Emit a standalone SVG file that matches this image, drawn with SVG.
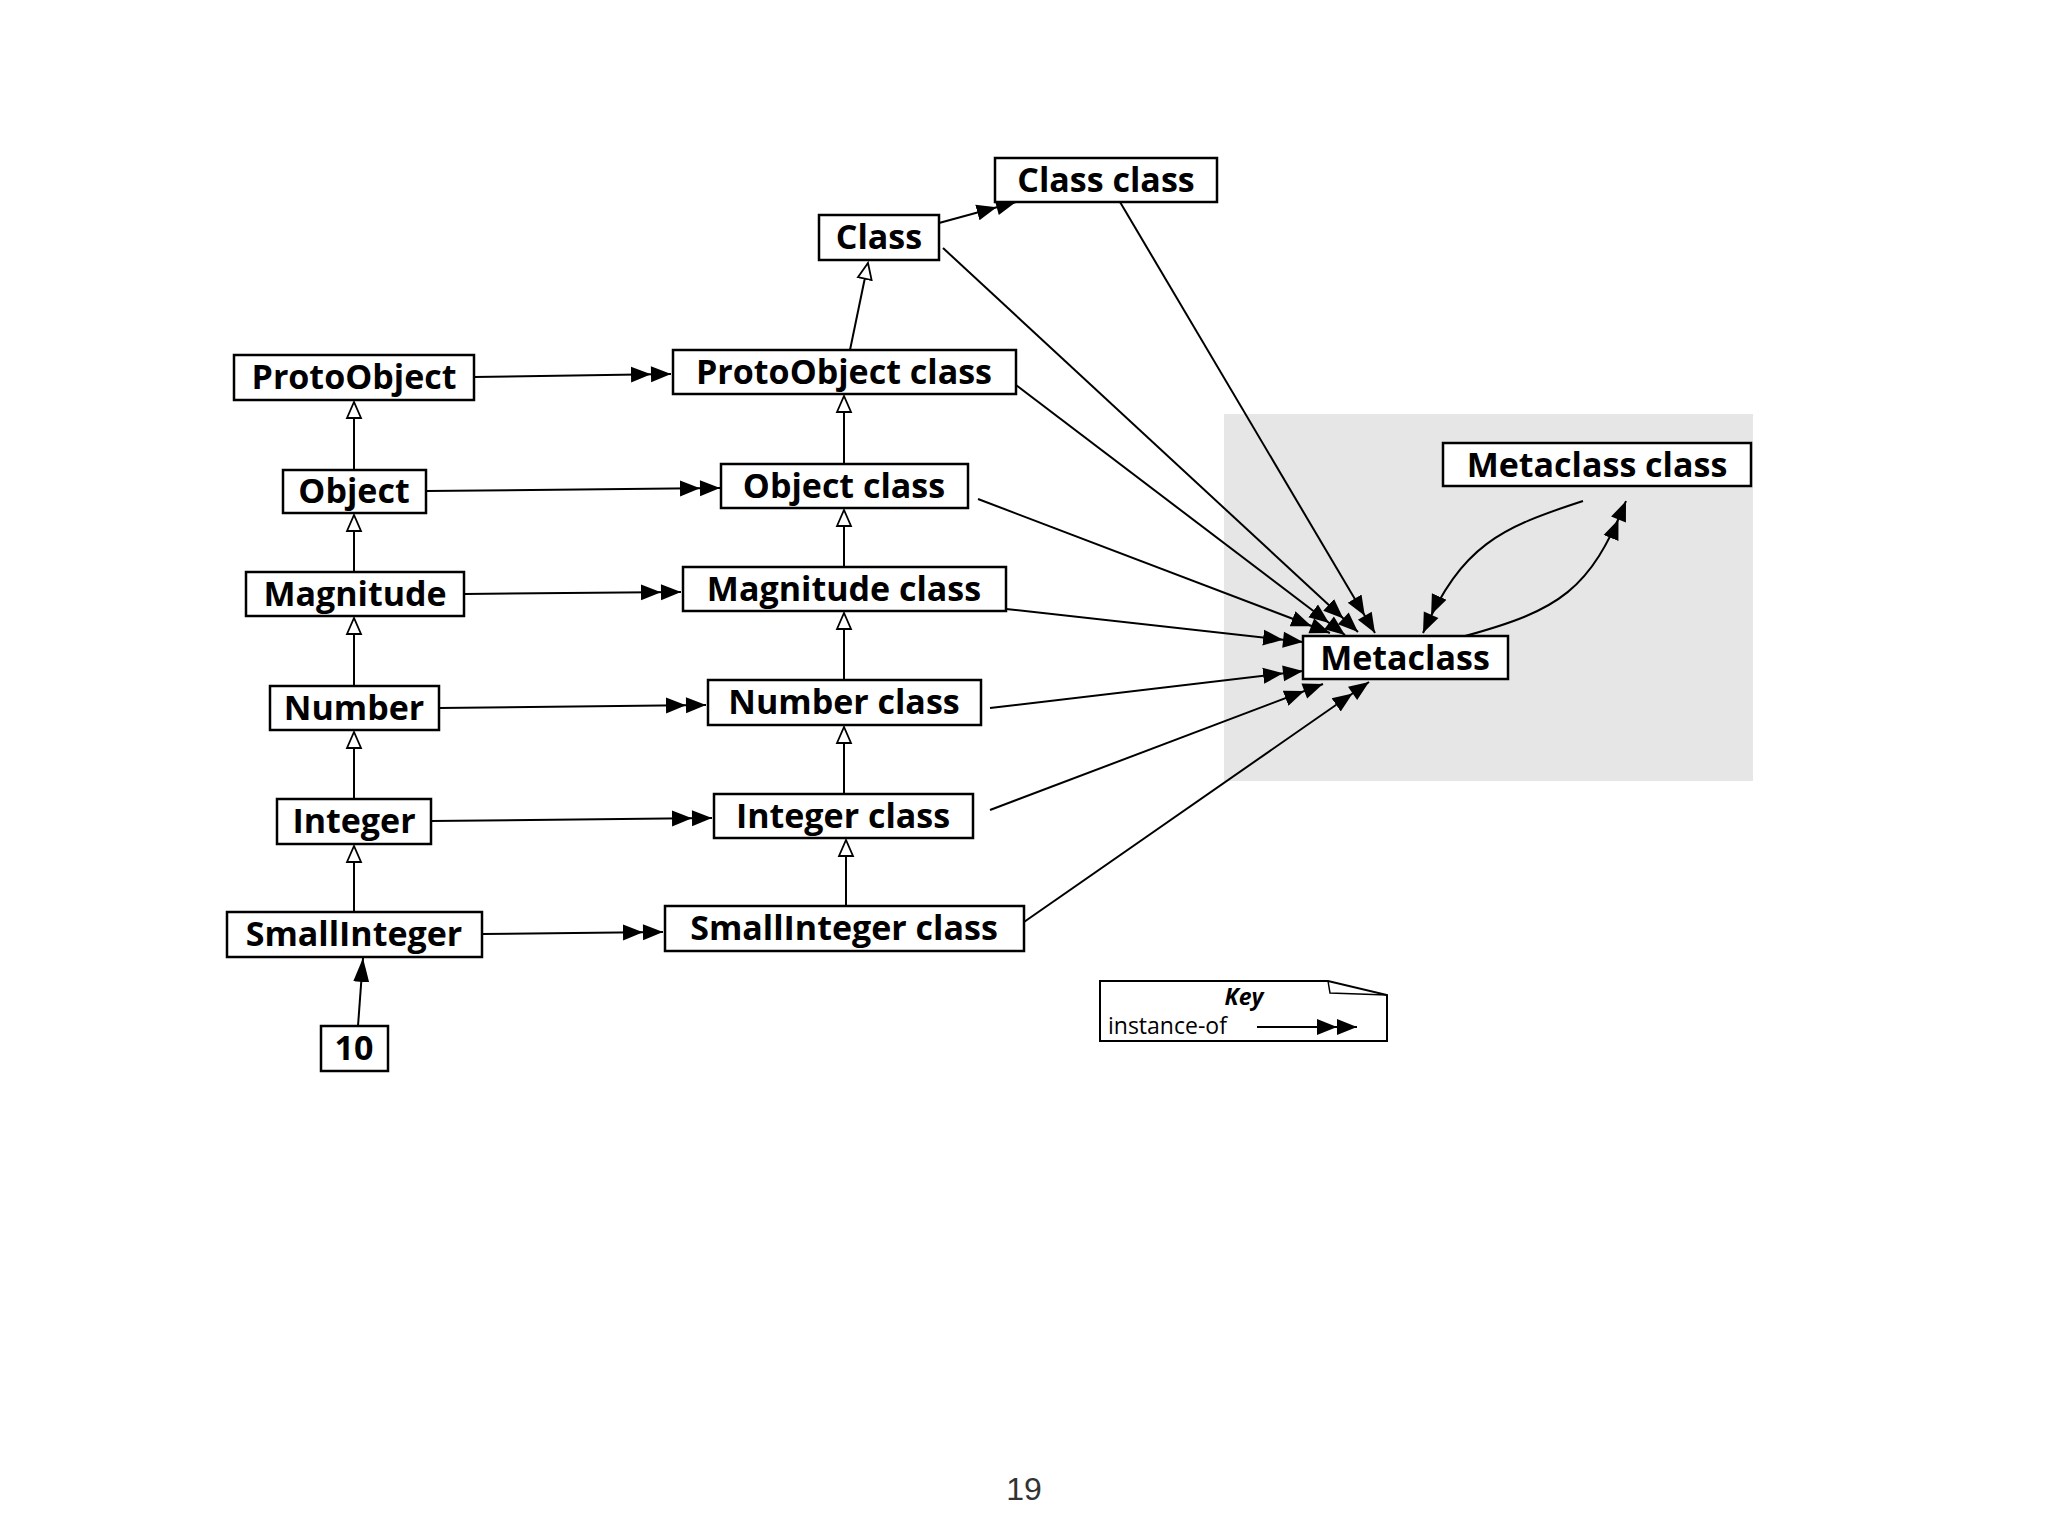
<svg xmlns="http://www.w3.org/2000/svg" width="2048" height="1536" viewBox="0 0 2048 1536">
<style>
.n rect{fill:#fff;stroke:#000;stroke-width:2.5}
.n text{font-family:"Open Sans","DejaVu Sans",sans-serif;font-weight:bold;font-size:34px;text-anchor:middle}
.e{fill:none;stroke:#000;stroke-width:2}
.io{marker-end:url(#dbl)}
.inh{marker-end:url(#tri)}
</style>
<defs>
<marker id="dbl" markerUnits="userSpaceOnUse" markerWidth="44" markerHeight="20" refX="40" refY="9" orient="auto" viewBox="0 0 44 20"><path d="M0,1 L20,9 L0,17 Z M20,1 L40,9 L20,17 Z" fill="#000"/></marker>
<marker id="tri" markerUnits="userSpaceOnUse" markerWidth="20" markerHeight="20" refX="17" refY="9" orient="auto" viewBox="0 0 20 20"><path d="M1,2 L17,9 L1,16 Z" fill="#fff" stroke="#000" stroke-width="1.8"/></marker>
<marker id="sgl" markerUnits="userSpaceOnUse" markerWidth="26" markerHeight="20" refX="24" refY="9" orient="auto" viewBox="0 0 26 20"><path d="M0,1 L24,9 L0,17 Z" fill="#000"/></marker>
</defs>
<rect x="1224" y="414" width="529" height="367" fill="#e6e6e6"/>
<g id="edges">
<line class="e inh" x1="850" y1="350" x2="868" y2="263"/>
<line class="e inh" x1="354" y1="470" x2="354" y2="402"/>
<line class="e inh" x1="354" y1="572" x2="354" y2="515"/>
<line class="e inh" x1="354" y1="686" x2="354" y2="618"/>
<line class="e inh" x1="354" y1="799" x2="354" y2="732"/>
<line class="e inh" x1="354" y1="912" x2="354" y2="846"/>
<line class="e inh" x1="844" y1="464" x2="844" y2="396"/>
<line class="e inh" x1="844" y1="567" x2="844" y2="510"/>
<line class="e inh" x1="844" y1="680" x2="844" y2="613"/>
<line class="e inh" x1="844" y1="794" x2="844" y2="727"/>
<line class="e inh" x1="846" y1="906" x2="846" y2="840"/>
<line class="e" marker-end="url(#sgl)" x1="358" y1="1026" x2="363" y2="958"/>
<line class="e io" x1="939" y1="223" x2="1016" y2="202"/>
<line class="e io" x1="474" y1="377" x2="671" y2="374"/>
<line class="e io" x1="426" y1="491" x2="720" y2="488"/>
<line class="e io" x1="464" y1="594" x2="681" y2="592"/>
<line class="e io" x1="439" y1="708" x2="706" y2="705"/>
<line class="e io" x1="431" y1="821" x2="712" y2="818"/>
<line class="e io" x1="482" y1="934" x2="663" y2="932"/>
<line class="e io" x1="1120" y1="202" x2="1375" y2="633"/>
<line class="e io" x1="943" y1="248" x2="1358" y2="632"/>
<line class="e io" x1="1016" y1="385" x2="1345" y2="635"/>
<line class="e io" x1="978" y1="499" x2="1330" y2="633"/>
<line class="e io" x1="1006" y1="609" x2="1303" y2="642"/>
<line class="e io" x1="990" y1="708" x2="1303" y2="671"/>
<line class="e io" x1="990" y1="810" x2="1323" y2="684"/>
<line class="e io" x1="1024" y1="922" x2="1369" y2="682"/>
<path class="e io" d="M1583,501 C1500,528 1462,545 1423,633"/>
<path class="e io" d="M1465,636 C1560,610 1590,590 1626,501"/>
</g>
<g id="n-classclass" class="n"><rect x="995" y="158" width="222" height="44"/><text x="1106" y="192">Class class</text></g>
<g id="n-class" class="n"><rect x="819" y="215" width="120" height="45"/><text x="879" y="249">Class</text></g>
<g id="n-protoobjectclass" class="n"><rect x="673" y="350" width="343" height="44"/><text x="844" y="384">ProtoObject class</text></g>
<g id="n-protoobject" class="n"><rect x="234" y="355" width="240" height="45"/><text x="354" y="389">ProtoObject</text></g>
<g id="n-object" class="n"><rect x="283" y="470" width="143" height="43"/><text x="354" y="503">Object</text></g>
<g id="n-objectclass" class="n"><rect x="721" y="464" width="247" height="44"/><text x="844" y="498">Object class</text></g>
<g id="n-magnitude" class="n"><rect x="246" y="572" width="218" height="44"/><text x="355" y="606">Magnitude</text></g>
<g id="n-magnitudeclass" class="n"><rect x="683" y="567" width="323" height="44"/><text x="844" y="601">Magnitude class</text></g>
<g id="n-number" class="n"><rect x="270" y="686" width="169" height="44"/><text x="354" y="720">Number</text></g>
<g id="n-numberclass" class="n"><rect x="708" y="680" width="273" height="45"/><text x="844" y="714">Number class</text></g>
<g id="n-integer" class="n"><rect x="277" y="799" width="154" height="45"/><text x="354" y="833">Integer</text></g>
<g id="n-integerclass" class="n"><rect x="714" y="794" width="259" height="44"/><text x="843" y="828">Integer class</text></g>
<g id="n-smallinteger" class="n"><rect x="227" y="912" width="255" height="45"/><text x="354" y="946">SmallInteger</text></g>
<g id="n-smallintegerclass" class="n"><rect x="665" y="906" width="359" height="45"/><text x="844" y="940">SmallInteger class</text></g>
<g id="n-10" class="n"><rect x="321" y="1026" width="67" height="45"/><text x="354" y="1060">10</text></g>
<g id="n-metaclass" class="n"><rect x="1303" y="636" width="205" height="43"/><text x="1405" y="670">Metaclass</text></g>
<g id="n-metaclassclass" class="n"><rect x="1443" y="443" width="308" height="43"/><text x="1597" y="477">Metaclass class</text></g>
<g id="key">
<path d="M1100,981 L1328,981 L1387,995 L1387,1041 L1100,1041 Z" fill="#fff" stroke="#000" stroke-width="2"/>
<path d="M1328,981 L1330,993 L1387,995" fill="none" stroke="#000" stroke-width="1.5"/>
<text x="1244" y="1005" font-family="'Open Sans','DejaVu Sans',sans-serif" font-weight="bold" font-style="italic" font-size="23" text-anchor="middle">Key</text>
<text x="1108" y="1034" font-family="'Open Sans','DejaVu Sans',sans-serif" font-size="23">instance-of</text>
<line class="e io" x1="1257" y1="1027" x2="1357" y2="1027"/>
</g>
<text x="1024" y="1500" font-family="'Liberation Sans',sans-serif" font-size="32" text-anchor="middle" fill="#333">19</text>
</svg>
